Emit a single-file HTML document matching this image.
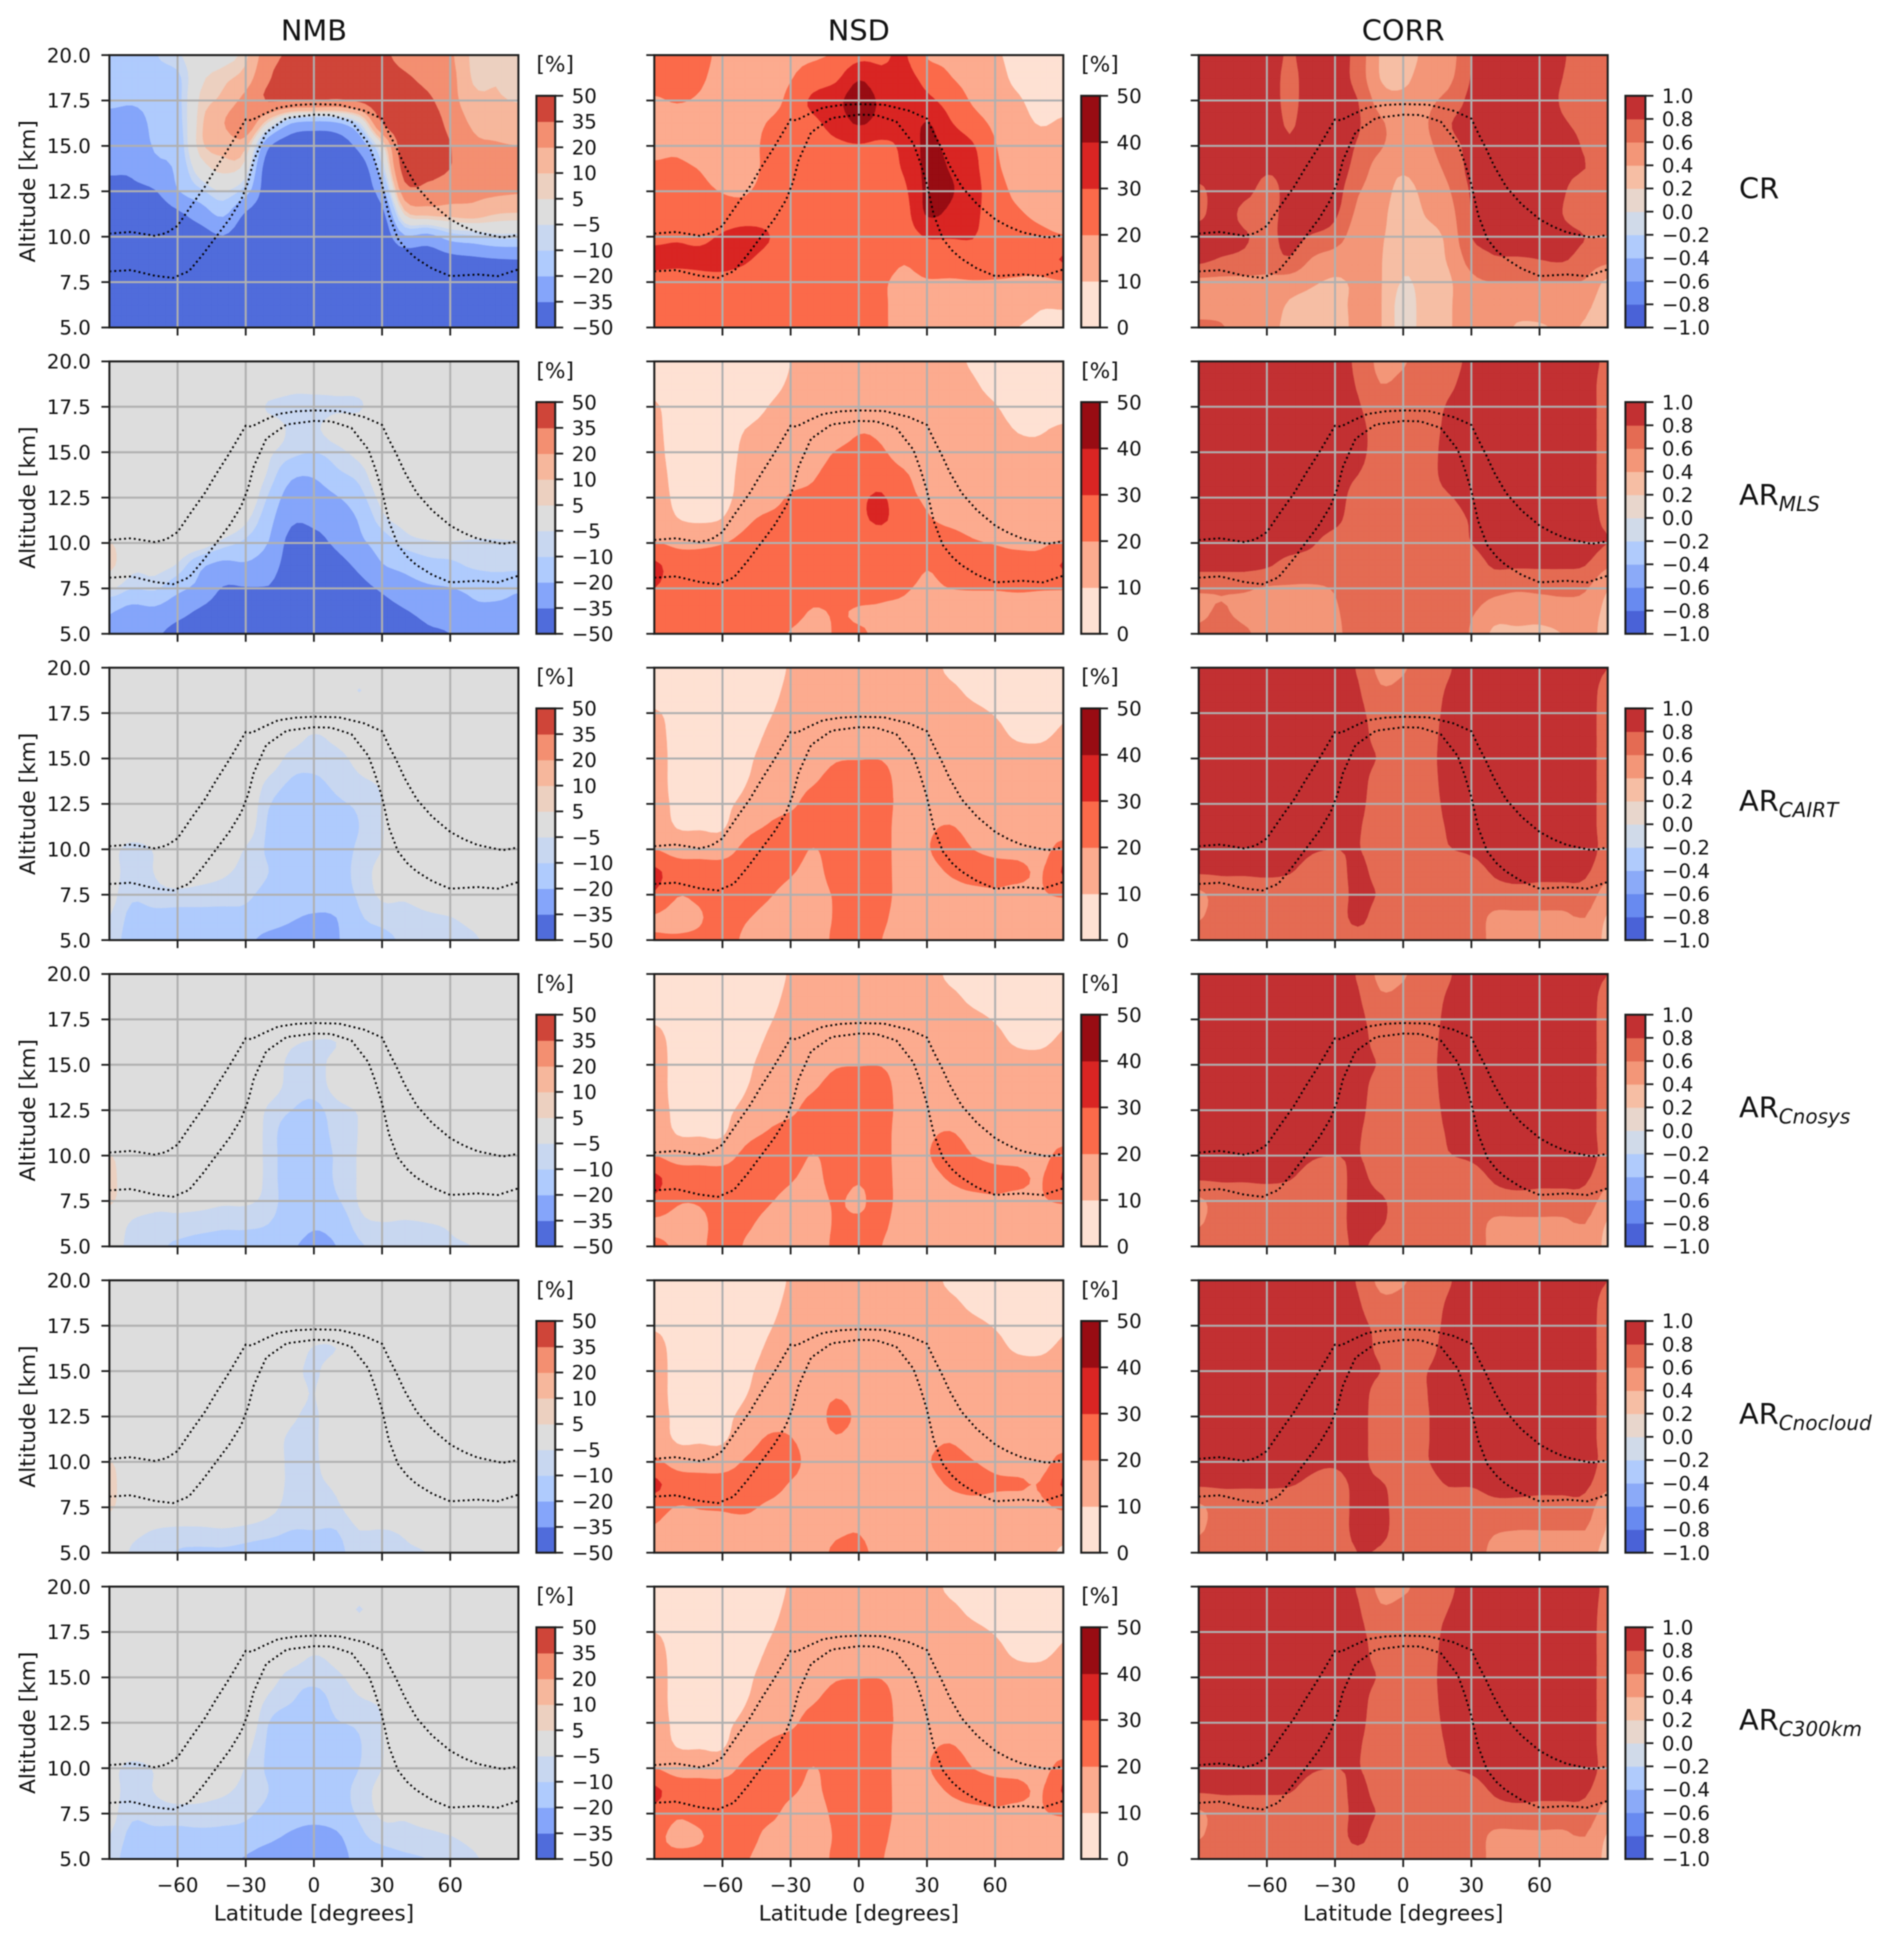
<!DOCTYPE html>
<html lang="en">
<head>
<meta charset="utf-8">
<title>NMB, NSD and CORR by latitude and altitude</title>
<style>
html,body{margin:0;padding:0;background:#fff}
svg{display:block;font-family:"DejaVu Sans","Liberation Sans",sans-serif;fill:#111;filter:blur(0.45px)}
</style>
</head>
<body>
<svg id="chart" xmlns="http://www.w3.org/2000/svg" width="1892" height="1945" viewBox="0 0 1892 1945"></svg>
<script>
const latitudes=[-90,-80,-70,-60,-50,-40,-30,-20,-10,0,10,20,30,40,50,60,70,80,90];
const altitudes=[20,18.75,17.5,16.25,15,13.75,12.5,11.25,10,8.75,7.5,6.25,5];
const latTicks=[-60,-30,0,30,60];
const altTicks=[5,7.5,10,12.5,15,17.5,20];
const altTickLabels=['5.0','7.5','10.0','12.5','15.0','17.5','20.0'];
const metricTitles=['NMB','NSD','CORR'];
const nmbLevels=[-50,-35,-20,-10,-5,5,10,20,35,50];
const nsdLevels=[0,10,20,30,40,50];
const corrLevels=[-1,-0.8,-0.6,-0.4,-0.2,0,0.2,0.4,0.6,0.8,1];
const nmbColors=['#506cdb','#85a5fa','#afcbfd','#c8d7f0','#dddddd','#ecd0c0','#f6b79c','#f38f71','#cf4539'];
const nsdColors=['#fee1d3','#fcab8f','#fb6a4a','#d92523','#980c13'];
const corrColors=['#4a62d7','#688af0','#8baaf8','#b0cbfc','#d0dae9','#e8d6cc','#f6bea4','#f39678','#e46b53','#c23032'];
const tropUpperLat=[-90,-80.5,-70,-65,-60,-54,-48,-43,-37.4,-30,-27.5,-22,-15.8,-8,0,11,22,30,33,36.3,40,45.3,52,60,66,72,83,90];
const tropUpperAlt=[10.17,10.26,10.05,10.2,10.6,11.7,12.75,13.8,14.9,16.46,16.41,16.75,17.1,17.25,17.3,17.27,16.94,16.5,15.7,14.9,13.9,12.75,11.8,10.96,10.55,10.24,9.95,10.1];
const tropLowerLat=[-90,-80.5,-70,-62,-55,-49,-43,-37,-32,-29,-26.5,-21,-12,0,7.5,16.5,24,27,30,33,37,41,45,52,60,72,81,90];
const tropLowerAlt=[8.09,8.16,7.85,7.73,8.1,9,10,11,12.03,13,14.2,15.74,16.53,16.72,16.7,16.34,15.14,14.1,12.87,11.2,9.88,9.25,8.8,8.25,7.83,7.92,7.83,8.2];

const nmbCR=[[-12,-15,-18,-24,-28,-33,-40,-45,-45,-45,-45,-45,-45],[-14,-15,-19,-24,-28,-33,-38,-45,-45,-45,-45,-45,-45],[-10.5,-13,-17,-18,-19,-24,-36,-45,-45,-45,-45,-45,-45],[-6,-12,-13,-14,-16,-18,-21,-38,-45,-45,-45,-45,-45],[0,3,6,8,8,0,-12,-28,-42,-45,-45,-45,-45],[2,8,12,19,12,7,-5,-18,-36,-45,-45,-45,-45],[8,14,24,30,12,0,-15,-37,-45,-45,-45,-45,-45],[28,33,36,3,-33,-45,-45,-45,-45,-45,-45,-45,-45],[38,45,35.5,-20,-45,-45,-45,-45,-45,-45,-45,-45,-45],[42,45,35.5,-25,-45,-45,-45,-45,-45,-45,-45,-45,-45],[42,45,33,-22,-45,-45,-45,-45,-45,-45,-45,-45,-45],[42,45,37,-7,-30,-45,-45,-45,-45,-45,-45,-45,-45],[38,42,44,35,2,-12,-26,-40,-45,-45,-45,-45,-45],[30,37,42,45,45,42,28,6,-22,-45,-45,-45,-45],[28,31,38,45,45,40,30,12,-25,-45,-45,-45,-45],[22,24,25,30,35.5,35,26,13,-15,-40,-45,-45,-45],[8,9,13,18,23,26,23,14,-12,-38,-45,-45,-45],[7,9.5,11,16,21,26,22,10,-8,-36,-45,-45,-45],[5,8,9.5,15,20,25,21,9,-8,-35,-45,-45,-45]];
const nsdCR=[[25,24,19,17,17,22,28,24,28,32,27,25,25],[22,22,20.5,16,18,22,25,26,29,32,26,25,26],[22,21,19,15,14,19.5,23,26,28,32,27,25,25],[18,17,16,15,14,14,19.5,24,31,33,27,25,25],[16,15,14,14,14,14,19,24,34,31,26,25,25],[18,16,15,20.5,23,23,24,26,30.5,27,25,25,25],[19,19.5,23,25,25,25,25,25,25,25,25,25,25],[19,24,32,28,26,25,25,25,25,25,25,25,25],[21,28,37,34,28,26,25,25,25,25,25,25,25],[27,39,45,41,29,26,25,25,25,25,25,25,25],[28,33,38,36,28,26,25,25,25,25,21.5,21.5,21.5],[31,33,33,33,32,31,28,26,25,21,17,16,16],[19,27,32,40.5,42,42,42,41,30.5,26,19,15,14],[18,20.5,26,31,37,39.5,41,38,30.5,25,19,15,15],[15,17,19,24,31,33,34,33,30.5,25,19.5,15,15],[11,13,15,18,20.5,22,24,24,24,23,19.5,15,15],[8,8,11,13,14,16,18,21,24,23,19,15,10],[6,6,7,9.5,13,15,16,18,22,24,18,11,8],[5,6,7,11,13,15,15,17,20.5,31,19,11,8]];
const corrCR=[[.9,.9,.9,.9,.9,.9,.75,.75,.9,.85,.55,.5,.65],[.9,.9,.9,.9,.9,.9,.9,.9,.9,.78,.55,.5,.62],[.9,.9,.9,.9,.9,.9,.85,.75,.82,.75,.55,.5,.48],[.9,.9,.9,.9,.9,.82,.75,.75,.75,.7,.55,.5,.45],[.78,.75,.75,.78,.82,.85,.85,.85,.85,.78,.5,.38,.36],[.9,.9,.9,.9,.9,.9,.9,.9,.78,.58,.42,.36,.34],[.9,.9,.9,.9,.9,.9,.88,.83,.7,.5,.38,.37,.36],[.72,.72,.8,.82,.78,.72,.62,.55,.48,.45,.42,.42,.42],[.38,.39,.5,.63,.62,.5,.48,.45,.42,.41,.41,.41,.41],[.3,.35,.45,.5,.5,.42,.35,.3,.3,.25,.18,.1,.1],[.45,.5,.55,.58,.55,.5,.45,.41,.33,.3,.28,.3,.3],[.5,.55,.66,.78,.72,.65,.58,.52,.45,.42,.37,.38,.38],[.8,.81,.85,.88,.85,.85,.82,.8,.8,.68,.55,.5,.5],[.9,.9,.9,.9,.9,.9,.9,.9,.85,.78,.6,.55,.5],[.9,.9,.9,.9,.9,.9,.9,.9,.9,.78,.6,.5,.38],[.9,.9,.9,.9,.9,.9,.9,.9,.85,.8,.6,.5,.38],[.82,.8,.78,.82,.88,.85,.82,.8,.85,.82,.6,.5,.42],[.7,.72,.72,.75,.78,.8,.7,.7,.8,.72,.58,.45,.38],[.65,.7,.7,.7,.72,.72,.7,.7,.72,.65,.35,.28,.25]];

const nmbMLS=[[0,0,0,0,0,0,0,0,5.5,7,-4,-19,-22],[0,0,0,0,0,0,0,0,0,-3,-10,-24,-30],[0,0,0,0,0,0,0,0,0,-3,-9,-23,-33],[0,0,0,0,0,0,0,0,0,-6,-17,-30,-40],[0,0,0,0,0,0,0,0,-1,-18,-24,-37,-42],[0,0,0,0,0,0,0,0,-7,-24,-36,-42,-45],[0,0,0,0,0,0,0,-4,-12,-22,-36,-42,-45],[0,0,-6,-1,-4,-6,-11,-16,-20.5,-28,-36,-43,-45],[0,-3,-7,-6,-8,-18,-26,-33,-40,-42,-45,-45,-45],[0,-3,-7,-6,-10,-19,-26,-33,-38,-42,-45,-45,-45],[0,-3,-6,-2,-7,-12,-21,-30,-33,-40,-45,-45,-45],[0,-2,-6,0,-3,-8,-13,-19,-23,-32,-40,-45,-45],[0,0,0,0,0,0,-3,-7,-15,-21,-33,-41,-45],[0,0,0,0,0,0,0,-3,-8,-17,-26,-36,-42],[0,0,0,0,0,0,0,0,-6,-13,-22,-31,-37],[0,0,0,0,0,0,0,0,-5.5,-12,-20.5,-28,-35],[0,0,0,0,0,0,0,0,-6,-9,-18,-22,-28],[0,0,0,0,0,0,0,0,-6,-8,-17,-22,-27],[0,0,0,0,0,0,0,0,-5.5,-8,-19,-22,-25]];
const nsdMLS=[[5,7,11,12,13,14,15,16,20.5,32,30,24,24],[6,6,6,6,6,7,8,10.5,18,25,25,24,24],[5,5,5,5,5,6,7,9,18,24,24,24,24],[5,5,5,5,5,6,7,10.5,19.5,25,25,25,25],[5,5,5,10,12,13,14,18,23,25,25,25,25],[5,7,10,13,14,14,16,22,25,25,25,25,25],[10,11,13,14,15,16,21,23,25,25,25,25,19],[12,13,14,14,15,19,22,24,25,25,25,19,15],[12,13,14,14,20.5,24,24,25,25,25,25,21,21],[12,13,14,19,23,25,28,28,25,25,25,19,21],[12,13,14,18,21,25,31,31,25,25,22,19,18],[12,13,14,15,16,21,23,25,25,25,21,18,15],[13,13,14,15,15,16,18.5,21,24,20.5,18,15,15],[12,13,14,15,16,15,15,18,24,24,20,15,15],[9,11,13,14,14,14,14,16,21,25,20.5,15,15],[5,7,10.5,13,14,14,14,15,19.5,24,20.5,15,15],[5,5,6,9.5,12,13,14,15,18,24,21,15,15],[5,5,6,9.5,11,13,13,15,18.5,23,20.5,15,15],[5,5,6.5,11,13,13,14,15,21,31,20.5,15,15]];
const corrMLS=[[.9,.9,.9,.9,.9,.9,.9,.9,.9,.85,.62,.58,.62],[.9,.9,.9,.9,.9,.9,.9,.9,.9,.85,.62,.61,.65],[.9,.9,.9,.9,.9,.9,.9,.9,.9,.85,.62,.57,.62],[.9,.9,.9,.9,.9,.9,.9,.9,.9,.82,.58,.55,.55],[.9,.9,.9,.9,.9,.9,.9,.9,.88,.72,.58,.52,.5],[.9,.9,.9,.9,.9,.9,.9,.9,.82,.7,.58,.52,.5],[.9,.9,.9,.9,.9,.9,.9,.85,.7,.66,.61,.58,.56],[.75,.78,.82,.85,.85,.8,.7,.68,.68,.68,.68,.68,.68],[.55,.6,.68,.72,.72,.7,.7,.7,.7,.7,.7,.7,.7],[.58,.65,.7,.7,.7,.7,.7,.7,.7,.7,.7,.7,.7],[.7,.7,.7,.7,.7,.7,.7,.7,.7,.7,.7,.7,.7],[.72,.76,.82,.85,.88,.88,.78,.7,.7,.7,.7,.62,.7],[.85,.88,.9,.9,.9,.9,.88,.82,.8,.7,.7,.62,.58],[.9,.9,.9,.9,.9,.9,.9,.9,.9,.82,.66,.5,.36],[.9,.9,.9,.9,.9,.9,.9,.9,.9,.82,.62,.5,.36],[.9,.9,.9,.9,.9,.9,.9,.9,.9,.82,.64,.48,.36],[.9,.9,.9,.9,.9,.9,.9,.9,.9,.82,.65,.52,.4],[.9,.9,.9,.9,.9,.9,.9,.9,.9,.8,.62,.52,.5],[.75,.7,.7,.7,.7,.7,.7,.75,.8,.62,.41,.35,.3]];

const nmbCAIRT=[[0,0,0,0,0,0,0,0,-3,-3,-3,-5,-7],[0,0,0,0,0,0,0,0,-7,-7,-9,-12,-13],[0,0,0,0,0,0,0,0,-4.5,-4.8,-7,-12,-13],[0,0,0,0,0,0,0,0,0,0,-7,-12,-14],[0,0,0,0,0,0,0,0,0,-2,-7.5,-12,-16],[0,0,0,0,0,0,0,0,-1,-4,-8,-12,-16],[0,0,0,0,0,0,0,-1,-5.5,-7,-9,-12,-18],[0,0,0,0,-1,-6,-9.5,-11,-11,-10,-12,-15,-23],[0,0,0,-2,-7,-10.5,-13,-14,-14,-14,-15,-19,-24],[0,0,0,-5.5,-8,-11,-14,-14,-14,-14,-16,-21,-25],[0,0,0,-3,-7,-8.5,-11,-13,-13,-13,-14,-20,-21],[0,-5.3,0,0,-3,-6,-9,-10,-9,-8,-9,-11,-14],[0,0,0,0,0,-4,-5,-5.5,-5,-3,-4,-8,-12],[0,0,0,0,0,0,0,0,0,0,-4,-7,-9],[0,0,0,0,0,0,0,0,0,0,-2,-6,-8],[0,0,0,0,0,0,0,0,0,0,0,-5.2,-7],[0,0,0,0,0,0,0,0,0,0,0,-3,-6],[0,0,0,0,0,0,0,0,0,0,0,0,-3],[0,0,0,0,0,0,0,0,0,0,0,0,-5]];
const nsdCAIRT=[[5,5,11,13,14,14,14,15,20,32,29,19,21],[5,5,7,7,7,7,8,9.5,16,25,20.5,17,21],[5,5,5,5,5,5,6,9,16,24,22,19,22],[5,5,5,5,5,6,8,9,16,24,25,25,25],[5,5,5,6,8,9.5,12,17,22,25,25,21,18],[5,7,9,11,13,14,16,20.5,24,24,21,17,15],[11,12,13,14,15,16,18,24,25,21,17,15,15],[14,14,14,14,15,19,24,26,19.5,17,16,15,15],[14,14,14,14,19,24,25,25,25,24,21,21,22],[14,14,14,14,19.5,25,25,25,25,25,24,25,25],[14,14,14,14,19.5,24,24,24,24,24,24,22,20],[14,14,14,14,15,15,16,15,15,15,15,15,15],[14,14,14,14,14,14,15,18,19,16,15,15,15],[8,12,14,14,14,14,14,20.5,25,21,15,15,15],[5,8,12,14,14,14,14,16,20,25,16,15,15],[5,6,9.5,12,14,14,14,15,17,24,18,15,15],[5,5,7,9,13,14,14,15,16,23,16,15,15],[5,5,6,9,12,14,14,15,16,19,19,15,15],[5,5,9,11,13,14,14,15,24,31,21,15,15]];
const corrCAIRT=[[.9,.9,.9,.9,.9,.9,.9,.9,.9,.82,.55,.58,.7],[.9,.9,.9,.9,.9,.9,.9,.9,.9,.82,.7,.7,.7],[.9,.9,.9,.9,.9,.9,.9,.9,.9,.82,.7,.7,.7],[.9,.9,.9,.9,.9,.9,.9,.9,.9,.83,.7,.7,.7],[.9,.9,.9,.9,.9,.9,.9,.9,.9,.81,.7,.7,.7],[.9,.9,.9,.9,.9,.9,.9,.88,.82,.72,.7,.7,.7],[.9,.9,.9,.9,.9,.9,.9,.9,.8,.72,.7,.7,.7],[.78,.82,.85,.88,.88,.88,.85,.82,.81,.85,.85,.85,.72],[.55,.62,.7,.72,.78,.7,.7,.7,.7,.72,.78,.7,.7],[.58,.65,.7,.7,.7,.7,.7,.7,.7,.7,.7,.7,.7],[.7,.7,.7,.7,.7,.7,.7,.7,.7,.7,.7,.7,.7],[.78,.82,.85,.88,.9,.88,.85,.82,.79,.7,.7,.7,.7],[.9,.9,.9,.9,.9,.9,.9,.9,.83,.72,.7,.7,.7],[.9,.9,.9,.9,.9,.9,.9,.9,.9,.82,.72,.56,.55],[.9,.9,.9,.9,.9,.9,.9,.9,.9,.87,.72,.56,.55],[.9,.9,.9,.9,.9,.9,.9,.9,.9,.85,.72,.56,.55],[.9,.9,.9,.9,.9,.9,.9,.9,.9,.85,.72,.56,.55],[.9,.9,.9,.9,.9,.9,.9,.9,.9,.83,.72,.6,.55],[.8,.72,.7,.7,.7,.7,.7,.7,.72,.65,.5,.38,.35]];

const nmbCnosys=[[0,0,0,0,0,0,0,0,5.5,7,6,1,0],[0,0,0,0,0,0,0,0,0,0,0,-6,-8],[0,0,0,0,0,0,0,0,0,0,-3,-7,-9],[0,0,0,0,0,0,0,0,0,0,-3,-7,-11],[0,0,0,0,0,0,0,0,0,0,-3,-8,-12],[0,0,0,0,0,0,0,0,0,0,-4,-9,-12],[0,0,0,0,0,0,0,0,0,0,-4,-9,-12],[0,0,0,0,0,-2,-6,-7,-7,-7,-7,-10,-14],[0,0,0,-4,-7,-7,-10,-14,-14,-14,-14,-15,-19],[0,0,0,-5.5,-7,-8,-12,-14,-15,-15,-15,-19,-22],[0,0,0,-5,-3,-3,-7,-8,-9,-9,-11,-16,-20],[0,0,0,0,0,0,-4.5,-4.8,-4.5,-4.5,-4.5,-7,-11],[0,0,0,0,0,0,0,0,0,0,0,-5.5,-9.5],[0,0,0,0,0,0,0,0,0,0,0,-6,-9],[0,0,0,0,0,0,0,0,0,0,0,-5.2,-7],[0,0,0,0,0,0,0,0,0,0,0,-4,-6],[0,0,0,0,0,0,0,0,0,0,0,0,-5],[0,0,0,0,0,0,0,0,0,0,0,0,0],[0,0,0,0,0,0,0,0,0,0,0,0,0]];
const nsdCnosys=[[5,5,9,13,14,14,14,15,20,32,28,18,22],[5,5,7,7,7,7,8,9.5,16,25,21,17,19],[5,5,5,5,5,5,6,9,16,24,21,17,18],[5,5,5,5,5,6,8,9,16,24,25,25,25],[5,5,5,6,8,9.5,12,17,22,25,25,22,19],[5,7,9,11,13,14,16,20.5,24,24,21,17,15],[11,12,13,14,15,16,18,24,25,21,17,15,15],[14,14,14,14,15,19,24,26,19.5,17,16,15,15],[14,14,14,14,19,24,25,25,25,24,21,21,22],[14,14,14,14,19.5,25,25,25,25,21,18,22,25],[14,14,14,14,19.5,24,24,24,24,24,24,22,20],[14,14,14,14,15,15,16,15,15,15,15,15,15],[14,14,14,14,14,14,15,18,19,16,15,15,15],[8,12,14,14,14,14,14,20.5,25,21,15,15,15],[5,8,12,14,14,14,14,16,20,25,16,15,15],[5,6,9.5,12,14,14,14,15,17,24,18,15,15],[5,5,7,9,13,14,14,15,16,23,16,15,15],[5,5,6,9,12,14,14,15,16,19,19,15,15],[5,5,9,11,13,14,14,15,24,31,21,15,15]];
const corrCnosys=[[.9,.9,.9,.9,.9,.9,.9,.9,.9,.82,.56,.58,.7],[.9,.9,.9,.9,.9,.9,.9,.9,.9,.82,.7,.7,.7],[.9,.9,.9,.9,.9,.9,.9,.9,.9,.82,.7,.7,.7],[.9,.9,.9,.9,.9,.9,.9,.9,.9,.83,.7,.7,.7],[.9,.9,.9,.9,.9,.9,.9,.9,.9,.81,.7,.7,.7],[.9,.9,.9,.9,.9,.9,.9,.88,.82,.72,.7,.7,.7],[.9,.9,.9,.9,.9,.9,.9,.9,.8,.72,.7,.7,.7],[.78,.82,.85,.88,.88,.88,.85,.82,.81,.85,.88,.88,.84],[.55,.62,.7,.72,.78,.7,.7,.7,.7,.72,.83,.82,.72],[.58,.65,.7,.7,.7,.7,.7,.7,.7,.7,.7,.7,.7],[.7,.7,.7,.7,.7,.7,.7,.7,.7,.7,.7,.7,.7],[.78,.82,.85,.88,.9,.88,.85,.82,.79,.7,.7,.7,.7],[.9,.9,.9,.9,.9,.9,.9,.9,.83,.72,.7,.7,.7],[.9,.9,.9,.9,.9,.9,.9,.9,.9,.82,.72,.56,.55],[.9,.9,.9,.9,.9,.9,.9,.9,.9,.87,.72,.56,.55],[.9,.9,.9,.9,.9,.9,.9,.9,.9,.85,.72,.56,.55],[.9,.9,.9,.9,.9,.9,.9,.9,.9,.85,.72,.56,.55],[.9,.9,.9,.9,.9,.9,.9,.9,.9,.83,.72,.6,.55],[.8,.72,.7,.7,.7,.7,.7,.7,.72,.65,.5,.38,.35]];

const nmbCnocloud=[[0,0,0,0,0,0,0,0,5.5,7,6,1,0],[0,0,0,0,0,0,0,0,0,0,0,-3,-6],[0,0,0,0,0,0,0,0,0,0,0,-5.2,-8],[0,0,0,0,0,0,0,0,0,0,0,-6,-10.5],[0,0,0,0,0,0,0,0,0,0,0,-6,-11],[0,0,0,0,0,0,0,0,0,0,0,-5.5,-11],[0,0,0,0,0,0,0,0,0,0,0,-6.5,-12],[0,0,0,0,0,0,0,-2,-2,-2,-3,-8,-13],[0,0,0,-1,-3,-2,-4,-6,-6,-6,-7,-10,-13],[0,0,0,-5.5,-6,-5.2,-6,-6,-6,-6,-7,-10,-14],[0,0,0,-5,-1,0,0,0,-1,-4,-6,-10,-12],[0,0,0,0,0,0,0,0,0,0,-1,-5,-7],[0,0,0,0,0,0,0,0,0,0,0,-5.2,-6],[0,0,0,0,0,0,0,0,0,0,0,-4,-6],[0,0,0,0,0,0,0,0,0,0,0,0,-5],[0,0,0,0,0,0,0,0,0,0,0,0,0],[0,0,0,0,0,0,0,0,0,0,0,0,0],[0,0,0,0,0,0,0,0,0,0,0,0,0],[0,0,0,0,0,0,0,0,0,0,0,0,0]];
const nsdCnocloud=[[5,5,9,13,14,14,14,15,22,32,24,19,16],[5,5,7,7,7,7,8,9,16,25,19.5,15,15],[5,5,5,5,5,5,6,9,15,24,20.5,15,15],[5,5,5,5,5,6,8,9,15,24,21,15,15],[5,5,5,6,8,9.5,12,15,21,25,22,15,15],[5,7,9,11,13,14,16,21,25,25,18,15,15],[11,12,13,14,15,16,17,20.5,24,19,15,15,15],[14,14,14,14,14,15,15,15,15,15,15,15,15],[14,14,14,14,15,19,23,19,15,15,15,18,22],[14,14,14,14,15,16,18,16,15,15,16,19.5,22],[14,14,14,14,15,15,15,15,15,15,15,15,17],[14,14,14,14,15,15,15,15,15,15,15,15,15],[14,14,14,14,14,14,15,17,19,16,15,15,15],[8,12,14,14,14,14,14,19,24,21,15,15,15],[5,8,12,14,14,14,14,15,20.5,24,15,15,15],[5,6,9.5,12,14,14,14,15,17,21.5,15,15,15],[5,5,7,9,13,14,14,15,16,21,15,15,15],[5,5,6,9,12,14,14,15,16,20.5,18,15,15],[5,5,9,11,13,14,14,15,24,31,21,15,8]];
const corrCnocloud=[[.9,.9,.9,.9,.9,.9,.9,.9,.9,.82,.56,.57,.7],[.9,.9,.9,.9,.9,.9,.9,.9,.9,.82,.7,.7,.7],[.9,.9,.9,.9,.9,.9,.9,.9,.9,.82,.7,.7,.7],[.9,.9,.9,.9,.9,.9,.9,.9,.9,.82,.7,.7,.7],[.9,.9,.9,.9,.9,.9,.9,.9,.9,.81,.7,.7,.7],[.9,.9,.9,.9,.9,.9,.9,.88,.84,.76,.7,.7,.7],[.9,.9,.9,.9,.9,.9,.9,.9,.83,.72,.7,.7,.7],[.78,.82,.85,.88,.88,.88,.88,.88,.88,.85,.85,.85,.8],[.55,.65,.75,.76,.8,.72,.7,.7,.7,.82,.85,.85,.78],[.58,.66,.7,.7,.7,.7,.7,.7,.7,.7,.7,.7,.7],[.7,.7,.7,.72,.79,.79,.78,.78,.78,.72,.7,.7,.7],[.78,.82,.85,.88,.9,.9,.9,.9,.9,.81,.7,.7,.7],[.9,.9,.9,.9,.9,.9,.9,.9,.9,.81,.72,.7,.7],[.9,.9,.9,.9,.9,.9,.9,.9,.9,.85,.75,.62,.55],[.9,.9,.9,.9,.9,.9,.9,.9,.9,.85,.75,.6,.55],[.9,.9,.9,.9,.9,.9,.9,.9,.9,.85,.73,.6,.55],[.9,.9,.9,.9,.9,.9,.9,.9,.9,.85,.73,.6,.55],[.9,.9,.9,.9,.9,.9,.9,.9,.9,.84,.72,.6,.5],[.8,.72,.7,.7,.7,.7,.7,.7,.72,.65,.42,.38,.33]];

const nmbC300km=[[0,0,0,0,0,0,0,0,-3,-3,-3,-5,-7],[0,0,0,0,0,0,0,0,-7,-7,-9,-12,-14],[0,0,0,0,0,0,0,0,-4.5,-4.8,-7.5,-12,-14],[0,0,0,0,0,0,0,0,0,-2,-7.5,-12,-15],[0,0,0,0,0,0,0,0,0,-3,-7,-12,-17],[0,0,0,0,0,0,0,0,0,-4,-8,-12,-18],[0,0,0,0,0,0,0,-3,-5.5,-7,-9,-13,-21],[0,0,0,0,-2.5,-6,-10,-11,-11,-10,-12,-17,-27],[0,0,0,-2,-7,-9.5,-14,-14,-14,-14,-15,-22,-30],[0,0,0,-5,-8,-13,-14,-14,-15,-15,-16,-25,-30],[0,0,0,-3,-6,-8,-10.5,-14,-14,-13,-14,-22,-27],[0,-5.5,0,0,-3,-5.5,-9,-10.5,-10,-8,-9,-12,-15],[0,0,0,0,0,-4,-5,-5.5,-5,-3,-4,-8,-13],[0,0,0,0,0,0,0,0,0,0,-4,-7,-11],[0,0,0,0,0,0,0,0,0,0,-2,-6.5,-10],[0,0,0,0,0,0,0,0,0,0,0,-5.2,-8],[0,0,0,0,0,0,0,0,0,0,0,-3,-6],[0,0,0,0,0,0,0,0,0,0,0,0,-3],[0,0,0,0,0,0,0,0,-5.2,0,0,0,-5]];
const nsdC300km=[[5,5,10,13,14,14,14,15,20,32,27,22,22],[5,5,7,7,7,7,8,9.5,16,25,21,18,22],[5,5,5,5,5,5,6,9,16,24,23,19,23],[5,5,5,5,5,6,8,9,16,24,25,25,25],[5,5,5,6,8,9.5,12,17,22,25,25,25,21],[5,7,9,11,13,14,16,21,24,25,23,17,15],[11,12,13,14,15,16,18,24,25,21.5,17,15,15],[14,14,14,14,15,19,24,26,19.5,18,16,15,15],[14,14,14,14,19,24,25,25,25,24,22,21,22],[14,14,14,14,19.5,25,25,25,25,25,25,25,25],[14,14,14,14,19.5,24,24,24,24,24,24,22,20.5],[14,14,14,14,15,15,16,15,15,15,15,15,15],[14,14,14,14,14,14,15,18,19,16,15,15,15],[8,12,14,14,14,14,14,20.5,25,21,15,15,15],[5,8,12,14,14,14,14,16,20,25,16,15,15],[5,6,9.5,12,14,14,14,15,17,24,18,15,15],[5,5,7,9,13,14,14,15,16,23,16,15,15],[5,5,6,9,12,14,14,15,16,19,19,15,15],[5,5,9,11,13,14,14,15,24,31,21,15,15]];
const corrC300km=[[.9,.9,.9,.9,.9,.9,.9,.9,.9,.82,.56,.58,.7],[.9,.9,.9,.9,.9,.9,.9,.9,.9,.82,.7,.7,.7],[.9,.9,.9,.9,.9,.9,.9,.9,.9,.82,.7,.7,.7],[.9,.9,.9,.9,.9,.9,.9,.9,.9,.82,.7,.7,.7],[.9,.9,.9,.9,.9,.9,.9,.9,.9,.81,.7,.7,.7],[.9,.9,.9,.9,.9,.9,.9,.88,.82,.72,.7,.7,.7],[.9,.9,.9,.9,.9,.9,.9,.9,.8,.72,.7,.7,.7],[.78,.82,.85,.88,.88,.88,.85,.82,.81,.85,.85,.85,.72],[.55,.62,.7,.72,.78,.7,.7,.7,.7,.72,.78,.7,.7],[.56,.66,.7,.7,.7,.7,.7,.7,.7,.7,.7,.7,.7],[.7,.7,.7,.7,.7,.7,.7,.7,.7,.7,.7,.7,.7],[.76,.8,.85,.88,.9,.88,.85,.82,.79,.7,.7,.7,.7],[.9,.9,.9,.9,.9,.9,.9,.9,.83,.72,.7,.7,.7],[.9,.9,.9,.9,.9,.9,.9,.9,.9,.82,.72,.56,.55],[.9,.9,.9,.9,.9,.9,.9,.9,.9,.87,.72,.56,.55],[.9,.9,.9,.9,.9,.9,.9,.9,.9,.85,.72,.56,.48],[.9,.9,.9,.9,.9,.9,.9,.9,.9,.85,.72,.56,.55],[.9,.9,.9,.9,.9,.9,.9,.9,.9,.83,.72,.6,.55],[.75,.72,.7,.7,.7,.7,.7,.7,.72,.65,.5,.38,.35]];

const rowFields=[[nmbCR,nsdCR,corrCR],[nmbMLS,nsdMLS,corrMLS],[nmbCAIRT,nsdCAIRT,corrCAIRT],[nmbCnosys,nsdCnosys,corrCnosys],[nmbCnocloud,nsdCnocloud,corrCnocloud],[nmbC300km,nsdC300km,corrC300km]];
const rowKeys=['cr','ar-mls','ar-cairt','ar-cnosys','ar-cnocloud','ar-c300km'];
const rowMain=['CR','AR','AR','AR','AR','AR'];
const rowSub=['','MLS','CAIRT','Cnosys','Cnocloud','C300km'];
const metricLevels=[nmbLevels,nsdLevels,corrLevels];
const metricColors=[nmbColors,nsdColors,corrColors];
const metricTickLabels=[['−50','−35','−20','−10','−5','5','10','20','35','50'],['0','10','20','30','40','50'],['−1.0','−0.8','−0.6','−0.4','−0.2','0.0','0.2','0.4','0.6','0.8','1.0']];

const NS='http://www.w3.org/2000/svg';
const svg=document.getElementById('chart');
const colLeft=[109.4,654.3,1198.7],axW=409,rowTop0=55.1,rowPitch=306.3,axH=272.4;
const cbLeft=[536.4,1081.2,1625.4],cbW=[18.8,18.8,20],cbInset=40.7;
const SPINE='#1c1c1c',GRID='#b0b0b0';
const TICK=19.8,LABEL=21.7,TITLE=28.8;
const REFINE=4;

function mk(tag,attrs,parent,text){
  const el=document.createElementNS(NS,tag);
  for(const k in attrs) el.setAttribute(k,attrs[k]);
  if(text!==undefined) el.textContent=text;
  parent.appendChild(el);
  return el;
}
function clipPoly(poly,f){
  const out=[];
  for(let i=0;i<poly.length;i++){
    const a=poly[i],b=poly[(i+1)%poly.length],fa=f(a),fb=f(b);
    if(fa>=0) out.push(a);
    if((fa>=0)!==(fb>=0)){
      const t=fa/(fa-fb);
      out.push({lat:a.lat+t*(b.lat-a.lat),alt:a.alt+t*(b.alt-a.alt),v:a.v+t*(b.v-a.v)});
    }
  }
  return out;
}
function spline(a,b,c,d,t){
  return b+0.5*t*(c-a+t*(2*a-5*b+4*c-d+t*(3*(b-c)+d-a)));
}
function sample(field,x,y){
  const nx=field.length-1,ny=field[0].length-1;
  const ix=Math.min(Math.floor(x),nx-1),iy=Math.min(Math.floor(y),ny-1),u=x-ix,v=y-iy;
  const col=k=>{
    const f=field[Math.max(0,Math.min(nx,k))];
    const at=j=>f[Math.max(0,Math.min(ny,j))];
    return spline(at(iy-1),at(iy),at(iy+1),at(iy+2),v);
  };
  const val=spline(col(ix-1),col(ix),col(ix+1),col(ix+2),u);
  const corners=[field[ix][iy],field[ix+1][iy],field[ix][iy+1],field[ix+1][iy+1]];
  return Math.max(Math.min(...corners),Math.min(Math.max(...corners),val));
}
function refineAxis(values){
  const out=[];
  for(let i=0;i<values.length-1;i++){
    for(let k=0;k<REFINE;k++) out.push(values[i]+(values[i+1]-values[i])*k/REFINE);
  }
  out.push(values[values.length-1]);
  return out;
}
const fineLats=refineAxis(latitudes),fineAlts=refineAxis(altitudes);
function refineField(field){
  return fineLats.map((_,i)=>fineAlts.map((_,j)=>sample(field,i/REFINE,j/REFINE)));
}
function bandPath(field,lo,hi,xs,ys){
  let d='';
  for(let i=0;i<fineLats.length-1;i++){
    for(let j=0;j<fineAlts.length-1;j++){
      const a=field[i][j],b=field[i+1][j],c=field[i+1][j+1],e=field[i][j+1];
      if(Math.max(a,b,c,e)<lo||Math.min(a,b,c,e)>hi) continue;
      let poly=[
        {lat:fineLats[i],alt:fineAlts[j],v:a},
        {lat:fineLats[i+1],alt:fineAlts[j],v:b},
        {lat:fineLats[i+1],alt:fineAlts[j+1],v:c},
        {lat:fineLats[i],alt:fineAlts[j+1],v:e}
      ];
      poly=clipPoly(poly,p=>p.v-lo);
      if(poly.length>2) poly=clipPoly(poly,p=>hi-p.v);
      if(poly.length>2){
        d+='M'+poly.map(p=>xs(p.lat).toFixed(1)+' '+ys(p.alt).toFixed(1)).join('L')+'Z';
      }
    }
  }
  return d;
}
function linePath(lats,alts,xs,ys){
  return lats.map((la,i)=>(i?'L':'M')+xs(la).toFixed(2)+' '+ys(alts[i]).toFixed(2)).join('');
}

metricTitles.forEach((title,c)=>{
  const t=mk('text',{x:colLeft[c]+axW/2,y:40.3,'text-anchor':'middle','font-size':TITLE},svg,title);
  
  
});

rowFields.forEach((fields,r)=>{
  const top=rowTop0+r*rowPitch,bottom=top+axH;
  const rowG=mk('g',{},svg);
  
  

  fields.forEach((field,c)=>{
    const left=colLeft[c],right=left+axW,metric=metricTitles[c].toLowerCase();
    const xs=lat=>left+(lat+90)/180*axW;
    const ys=alt=>top+(20-alt)/15*axH;
    const levels=metricLevels[c],colors=metricColors[c];
    const fine=refineField(field);
    const g=mk('g',{},rowG);
    
    

    colors.forEach((col,b)=>{
      const lo=b===0?-Infinity:levels[b];
      const hi=b===colors.length-1?Infinity:levels[b+1];
      const d=bandPath(fine,lo,hi,xs,ys);
      if(!d) return;
      const p=mk('path',{d:d,fill:col,stroke:col,'stroke-width':0.5},g);
      
      
    });

    latTicks.forEach(la=>{
      const gl=mk('line',{x1:xs(la),x2:xs(la),y1:top,y2:bottom,stroke:GRID,'stroke-width':2},g);
      
      
      const tk=mk('line',{x1:xs(la),x2:xs(la),y1:bottom,y2:bottom+8,stroke:SPINE,'stroke-width':1.8},g);
      
      
      if(r===rowFields.length-1){
        const tl=mk('text',{x:xs(la),y:1892,'text-anchor':'middle','font-size':TICK},g,(la<0?'−':'')+Math.abs(la));
        
        
      }
    });
    altTicks.forEach((al,k)=>{
      if(k>0&&k<altTicks.length-1){
        const gl=mk('line',{x1:left,x2:right,y1:ys(al),y2:ys(al),stroke:GRID,'stroke-width':2},g);
        
        
      }
      const tk=mk('line',{x1:left-8,x2:left,y1:ys(al),y2:ys(al),stroke:SPINE,'stroke-width':1.8},g);
      
      
      if(c===0){
        const tl=mk('text',{x:left-18.5,y:ys(al)+7.2,'text-anchor':'end','font-size':TICK},g,altTickLabels[k]);
        
        
      }
    });

    const upper=mk('path',{d:linePath(tropUpperLat,tropUpperAlt,xs,ys),fill:'none',stroke:'#000','stroke-width':1.9,'stroke-dasharray':'1.9 3'},g);
    
    
    const lower=mk('path',{d:linePath(tropLowerLat,tropLowerAlt,xs,ys),fill:'none',stroke:'#000','stroke-width':1.9,'stroke-dasharray':'1.9 3'},g);
    
    

    const frame=mk('rect',{x:left,y:top,width:axW,height:axH,fill:'none',stroke:SPINE,'stroke-width':2},g);
    
    

    if(c===0){
      const yl=mk('text',{transform:'translate(35,'+(top+axH/2)+') rotate(-90)','text-anchor':'middle','font-size':LABEL},g,'Altitude [km]');
      
      
    }
    if(r===rowFields.length-1){
      const xl=mk('text',{x:left+axW/2,y:1920.7,'text-anchor':'middle','font-size':LABEL},g,'Latitude [degrees]');
      
      
    }

    const cbG=mk('g',{},g);
    
    
    const cbTop=top+cbInset,cbH=bottom-cbTop,cx=cbLeft[c],cw=cbW[c];
    const n=colors.length;
    const cbY=k=>bottom-k/n*cbH;
    colors.forEach((col,b)=>{
      const sw=mk('rect',{x:cx,y:cbY(b+1),width:cw,height:cbY(b)-cbY(b+1)+0.4,fill:col},cbG);
      
      
    });
    const cf=mk('rect',{x:cx,y:cbTop,width:cw,height:cbH,fill:'none',stroke:SPINE,'stroke-width':2},cbG);
    
    
    metricTickLabels[c].forEach((lab,k)=>{
      const tk=mk('line',{x1:cx+cw,x2:cx+cw+8,y1:cbY(k),y2:cbY(k),stroke:SPINE,'stroke-width':1.8},cbG);
      
      
      const tl=mk('text',{x:cx+cw+16.5,y:cbY(k)+7.2,'font-size':TICK},cbG,lab);
      
      
    });
    if(c<2){
      const unit=mk('text',{x:cx,y:top+16.5,'font-size':LABEL},cbG,'[%]');
      
      
    }
  });

  const lab=mk('text',{x:1739,y:top+143.5,'font-size':TITLE},rowG,rowMain[r]);
  
  
  if(rowSub[r]){
    const sub=mk('tspan',{dy:6,'font-size':20,'font-style':'italic'},lab,rowSub[r]);
    
    
  }
});
</script>
</body>
</html>
